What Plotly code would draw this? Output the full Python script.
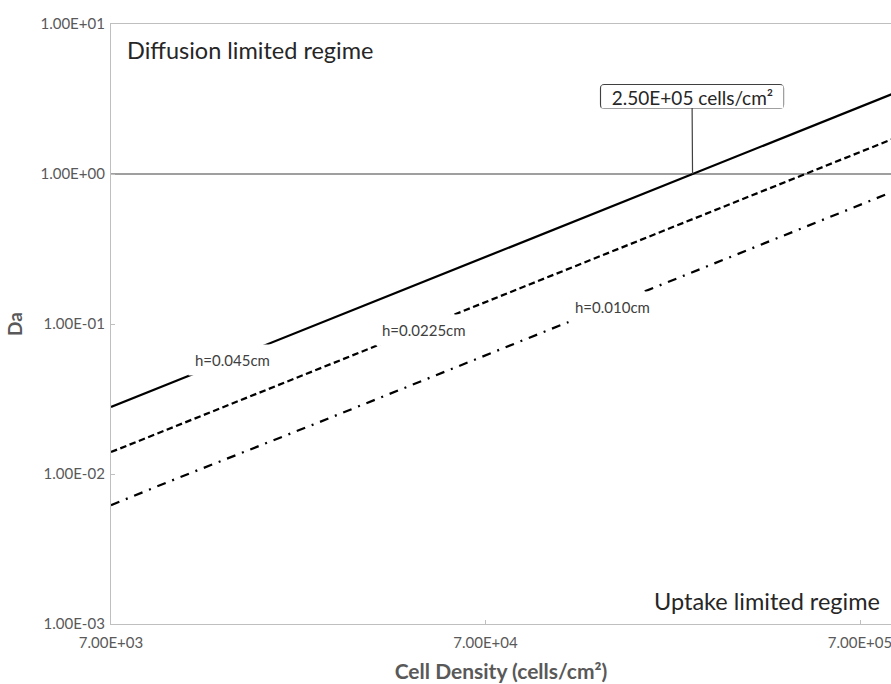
import numpy as np
import plotly.graph_objects as go

# Cell density (cells/cm^2) and Damkohler number for three medium heights
density = [7000, 10000, 25000, 50000, 100000, 250000, 500000, 1000000]
da_h045 = [0.028, 0.04, 0.1, 0.2, 0.4, 1.0, 2.0, 4.0]
da_h0225 = [0.014, 0.02, 0.05, 0.1, 0.2, 0.5, 1.0, 2.0]
da_h010 = [0.0062, 0.0089, 0.022, 0.044, 0.089, 0.22, 0.44, 0.89]

x_ticks = [7000, 70000, 700000]
x_tick_text = ["7.00E+03", "7.00E+04", "7.00E+05"]
y_ticks = [0.001, 0.01, 0.1, 1, 10]
y_tick_text = ["1.00E-03", "1.00E-02", "1.00E-01", "1.00E+00", "1.00E+01"]

critical_density = 250000
critical_da = 1.0

FONT = "Lato"
W, H = 891, 684
M_L, M_R, M_T, M_B = 111, 0, 24, 60
PW, PH = W - M_L - M_R, H - M_T - M_B

x_lo, x_hi = np.log10(7000), np.log10(8.47e5)
y_lo, y_hi = -3, 1

fig = go.Figure()

# Da = 1 boundary between the two regimes
fig.add_trace(go.Scatter(
    x=[10 ** x_lo, 10 ** x_hi], y=[critical_da, critical_da], mode="lines",
    line=dict(color="#404040", width=1.2), hoverinfo="skip", showlegend=False))

series = [
    (da_h045, "solid", "h=0.045cm"),
    (da_h0225, "6.5px,3.5px", "h=0.0225cm"),
    (da_h010, "9px,7px,2px,7px", "h=0.010cm"),
]
for vals, dash, name in series:
    fig.add_trace(go.Scatter(
        x=density, y=vals, mode="lines", name=name,
        line=dict(color="black", width=2.25, dash=dash), showlegend=False))

# Inline series labels with a white backing box
label_pos = [
    ("h=0.045cm", 14730, 10 ** -1.2367),
    ("h=0.0225cm", 47970, 10 ** -1.0367),
    ("h=0.010cm", 152400, 10 ** -0.8833),
]
for txt, lx, ly in label_pos:
    fig.add_annotation(
        x=np.log10(lx), y=np.log10(ly), text=txt, showarrow=False,
        font=dict(family=FONT, size=15, color="#404040"),
        bgcolor="white", borderpad=6, xanchor="center", yanchor="middle")

# Callout marking the critical cell density
box_w, box_h = 181, 22
ax_off, ay_off = -0.5, -77.5
fig.add_annotation(
    x=np.log10(critical_density), y=np.log10(critical_da),
    text="2.50E+05 cells/cm²", showarrow=True, arrowhead=0, arrowwidth=1.2,
    arrowcolor="#404040", ax=ax_off, ay=ay_off, standoff=0,
    width=box_w, height=box_h, borderpad=0, borderwidth=1,
    bordercolor="rgba(0,0,0,0)", bgcolor="white",
    font=dict(family=FONT, size=19, color="#262626"))

# Rounded outline drawn around the callout
cx = (np.log10(critical_density) - x_lo) / (x_hi - x_lo) * PW + ax_off
cy = (1 - (np.log10(critical_da) - y_lo) / (y_hi - y_lo)) * PH + ay_off
hw, hh, r = (box_w + 2) / 2, (box_h + 2) / 2, 4


def to_paper(px, py):
    return px / PW, 1 - py / PH


def rounded_rect(x0, y0, x1, y1, rad):
    p = lambda a, b: "%.5f,%.5f" % to_paper(a, b)
    pts = [
        "M " + p(x0 + rad, y0),
        "L " + p(x1 - rad, y0),
        "Q " + p(x1, y0) + " " + p(x1, y0 + rad),
        "L " + p(x1, y1 - rad),
        "Q " + p(x1, y1) + " " + p(x1 - rad, y1),
        "L " + p(x0 + rad, y1),
        "Q " + p(x0, y1) + " " + p(x0, y1 - rad),
        "L " + p(x0, y0 + rad),
        "Q " + p(x0, y0) + " " + p(x0 + rad, y0),
    ]
    return " ".join(pts) + " Z"


fig.add_shape(type="path", xref="paper", yref="paper",
              path=rounded_rect(cx - hw, cy - hh, cx + hw, cy + hh, r),
              line=dict(color="#404040", width=1.2), layer="above")

# Regime labels
fig.add_annotation(x=(125 - M_L) / PW, y=(PH - (50 - M_T)) / PH, xref="paper", yref="paper",
                   text="Diffusion limited regime", showarrow=False,
                   xanchor="left", yanchor="middle",
                   font=dict(family=FONT, size=23.5, color="#262626"))
fig.add_annotation(x=(882 - M_L) / PW, y=(PH - (601 - M_T)) / PH, xref="paper", yref="paper",
                   text="Uptake limited regime", showarrow=False,
                   xanchor="right", yanchor="middle",
                   font=dict(family=FONT, size=23.5, color="#262626"))

axis_common = dict(
    showline=True, linecolor="#bfbfbf", linewidth=1.3,
    ticks="inside", ticklen=4, tickcolor="#bfbfbf", tickwidth=1,
    showgrid=False, zeroline=False, ticklabeloverflow="allow",
    tickfont=dict(family=FONT, size=15, color="#595959"),
)

fig.update_xaxes(type="log", range=[x_lo, x_hi], tickvals=x_ticks, ticktext=x_tick_text,
                 mirror=True, ticklabelstandoff=5,
                 title=dict(text="<b>Cell Density (cells/cm²)</b>", standoff=14,
                            font=dict(family=FONT, size=21, color="#595959")),
                 **axis_common)
fig.update_yaxes(type="log", range=[y_lo, y_hi], tickvals=y_ticks, ticktext=y_tick_text,
                 ticklabelstandoff=2,
                 title=dict(text="<b>Da</b>", standoff=12,
                            font=dict(family=FONT, size=19, color="#595959")),
                 **axis_common)

fig.update_layout(
    width=W, height=H,
    margin=dict(l=M_L, r=M_R, t=M_T, b=M_B, pad=0),
    paper_bgcolor="white", plot_bgcolor="white",
    font=dict(family=FONT),
)

fig.write_html("out.html")
